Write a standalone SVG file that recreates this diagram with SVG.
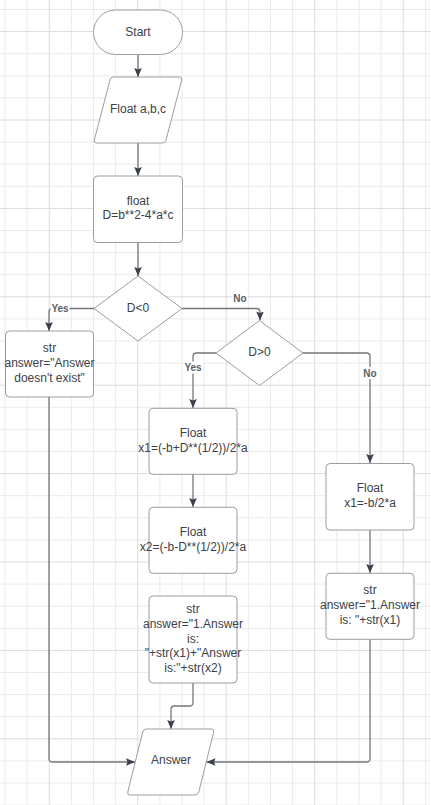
<svg xmlns="http://www.w3.org/2000/svg" width="431" height="805" viewBox="0 0 431 805">
<defs>
<marker id="arr" markerUnits="userSpaceOnUse" markerWidth="10" markerHeight="10" viewBox="0 0 10 10" refX="9" refY="5" orient="auto">
<path d="M0,1.2 L9,5 L0,8.8 L1.5,5 Z" fill="#3a414a"/>
</marker>
<style>
.grid{stroke:#ebebeb;stroke-width:1;fill:none}
.gridM{stroke:#dcdcdc;stroke-width:1;fill:none}
.shape{fill:#ffffff;stroke:#9a9da1;stroke-width:1}
.t{font-family:"Liberation Sans",Arial,sans-serif;font-size:12px;fill:#3a414a;text-anchor:middle}
.lbl{font-family:"Liberation Sans",Arial,sans-serif;font-size:10px;font-weight:bold;fill:#5b6168;text-anchor:middle}
.c{fill:none;stroke:#72777d;stroke-width:1.3;marker-end:url(#arr)}
.cn{fill:none;stroke:#72777d;stroke-width:1.3}
.lb{fill:#ffffff}
</style>
</defs>
<rect width="431" height="805" fill="#ffffff"/>
<g id="grid">
<path class="grid" d="M5,0V805M27.1,0V805M71.4,0V805M93.5,0V805M115.6,0V805M159.9,0V805M182,0V805M204.1,0V805M248.4,0V805M270.5,0V805M292.6,0V805M336.9,0V805M359,0V805M381.1,0V805M425.4,0V805"/>
<path class="grid" d="M0,9.5H431M0,53.7H431M0,75.8H431M0,97.9H431M0,142.1H431M0,164.2H431M0,186.3H431M0,230.5H431M0,252.6H431M0,274.7H431M0,318.9H431M0,341H431M0,363.1H431M0,407.3H431M0,429.4H431M0,451.5H431M0,495.7H431M0,517.8H431M0,539.9H431M0,584.1H431M0,606.2H431M0,628.3H431M0,672.5H431M0,694.6H431M0,716.7H431M0,760.9H431M0,783H431M0,805.1H431"/>
<path class="gridM" d="M49.2,0V805M137.7,0V805M226.2,0V805M314.7,0V805M403.2,0V805M0,31.6H431M0,120H431M0,208.4H431M0,296.8H431M0,385.2H431M0,473.6H431M0,562H431M0,650.4H431M0,738.8H431"/>
</g>
<g id="connectors">
<path class="c" d="M138,54.5V77"/>
<path class="c" d="M138,143V176"/>
<path class="c" d="M138,242.5V276"/>
<path class="c" d="M94,308.5H52.5Q49,308.5 49,312V331"/>
<path class="c" d="M182,308.5H256.5Q260,308.5 260,312V320.5"/>
<path class="c" d="M216,353H196.5Q193,353 193,356.5V408"/>
<path class="c" d="M303,353H366.5Q370,353 370,356.5V463"/>
<path class="c" d="M193,474V507"/>
<path class="c" d="M193,683V702.5Q193,706 189.5,706H174.5Q171,706 171,709.5V729"/>
<path class="c" d="M370,530V573"/>
<path class="c" d="M49,397V758.5Q49,762 52.5,762H135"/>
<path class="c" d="M370,639.5V758.5Q370,762 366.5,762H206.5"/>
<rect class="lb" x="50.5" y="302" width="19" height="12"/>
<text class="lbl" x="60" y="311.5">Yes</text>
<rect class="lb" x="232.5" y="293" width="15" height="11"/>
<text class="lbl" x="240" y="302">No</text>
<rect class="lb" x="183" y="361.5" width="20" height="12"/>
<text class="lbl" x="193" y="371">Yes</text>
<rect class="lb" x="362.5" y="367" width="15" height="12"/>
<text class="lbl" x="370" y="376.5">No</text>
</g>
<g id="start">
<rect class="shape" x="93.5" y="10" width="89" height="44.5" rx="22.2"/>
<text class="t" x="138" y="35.5">Start</text>
</g>
<g id="input">
<path class="shape" d="M113,77H179.5Q182.5,77 181.7,80L166,140Q165.2,143 162.2,143H96.5Q93.5,143 94.3,140L110,80Q110.8,77 113,77Z"/>
<text class="t" x="138" y="112.5">Float a,b,c</text>
</g>
<g id="calcD">
<rect class="shape" x="93.5" y="176" width="89" height="66.5" rx="4"/>
<text class="t" x="138" y="204.5">float</text>
<text class="t" x="138" y="219">D=b**2-4*a*c</text>
</g>
<g id="decision1">
<path class="shape" d="M138,276L182,308.5L138,341L94,308.5Z" stroke-linejoin="round"/>
<text class="t" x="138" y="311.5">D&lt;0</text>
</g>
<g id="noAnswer">
<rect class="shape" x="5.5" y="331" width="88" height="66" rx="4"/>
<text class="t" x="49.5" y="352.3">str</text>
<text class="t" x="49.5" y="367">answer="Answer</text>
<text class="t" x="49.5" y="381.5">doesn't exist"</text>
</g>
<g id="decision2">
<path class="shape" d="M259.5,320.5L303,353L259.5,385.5L216,353Z" stroke-linejoin="round"/>
<text class="t" x="259.5" y="355.5">D&gt;0</text>
</g>
<g id="x1box">
<rect class="shape" x="149" y="408.3" width="88" height="66" rx="4"/>
<text class="t" x="193" y="436.5">Float</text>
<text class="t" x="193" y="452">x1=(-b+D**(1/2))/2*a</text>
</g>
<g id="x2box">
<rect class="shape" x="149" y="507.3" width="88" height="66" rx="4"/>
<text class="t" x="193" y="536">Float</text>
<text class="t" x="193" y="551">x2=(-b-D**(1/2))/2*a</text>
</g>
<g id="twoAnswers">
<rect class="shape" x="149" y="596" width="88" height="87" rx="4"/>
<text class="t" x="193" y="613.3">str</text>
<text class="t" x="193" y="627.8">answer="1.Answer</text>
<text class="t" x="193" y="642.5">is:</text>
<text class="t" x="193" y="657">"+str(x1)+"Answer</text>
<text class="t" x="193" y="671.8">is:"+str(x2)</text>
</g>
<g id="x1single">
<rect class="shape" x="326" y="463.5" width="88" height="66.5" rx="4"/>
<text class="t" x="370" y="492">Float</text>
<text class="t" x="370" y="507">x1=-b/2*a</text>
</g>
<g id="oneAnswer">
<rect class="shape" x="326" y="573.3" width="88" height="66" rx="4"/>
<text class="t" x="370" y="594.3">str</text>
<text class="t" x="370" y="609.3">answer="1.Answer</text>
<text class="t" x="370" y="624.3">is: "+str(x1)</text>
</g>
<g id="answer">
<path class="shape" d="M146.5,729H211.5Q214.5,729 213.7,732L198.8,792Q198,795 195,795H130Q127,795 127.8,792L142.7,732Q143.5,729 146.5,729Z"/>
<text class="t" x="171" y="764.3">Answer</text>
</g>
</svg>
